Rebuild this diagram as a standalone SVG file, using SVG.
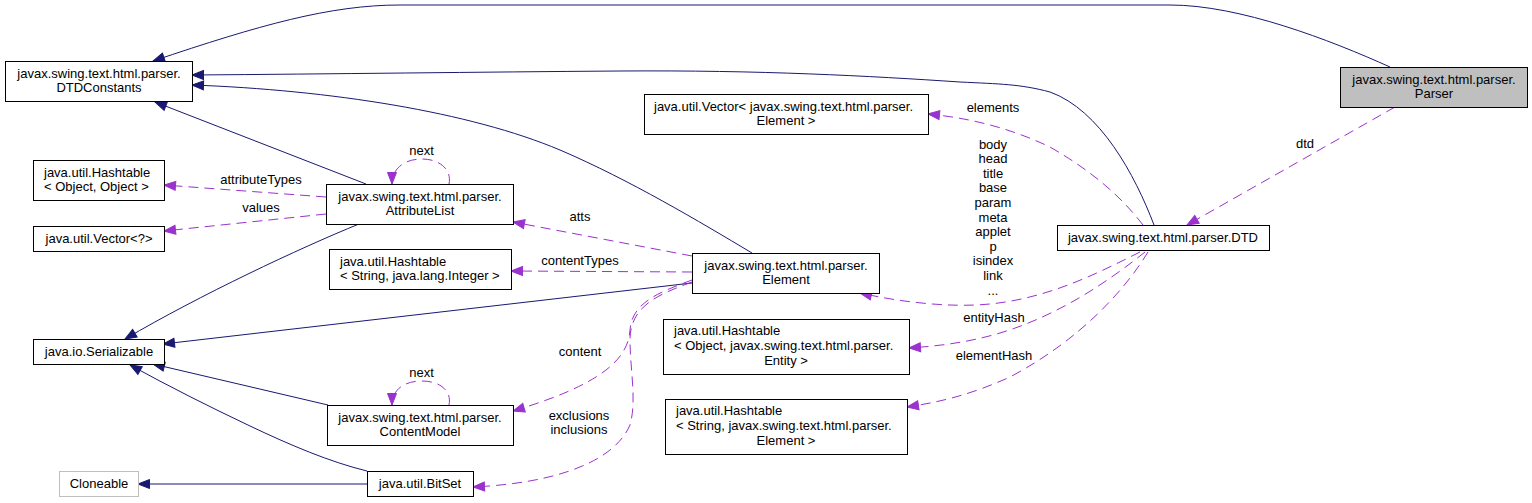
<svg xmlns="http://www.w3.org/2000/svg" width="1532" height="503" viewBox="0 0 1532 503">
<style>
text{font-family:"Liberation Sans",Arial,sans-serif;font-size:13px;fill:#000}
.c{text-anchor:middle}
.n rect{fill:#fff;stroke:#000;stroke-width:1}
.n.p rect{fill:#bfbfbf}
.n.x rect{stroke:#bfbfbf}
.i{fill:none;stroke:#191970;stroke-width:1;marker-end:url(#ai)}
.u{fill:none;stroke:#9a32cd;stroke-width:1;stroke-dasharray:10,6;marker-end:url(#au)}
</style>
<defs>
<marker id="ai" markerUnits="userSpaceOnUse" markerWidth="14" markerHeight="12" refX="12" refY="5" orient="auto" overflow="visible">
<path d="M0.5,0.5 L12,5 L0.5,9.5 z" fill="#191970" stroke="#191970" stroke-width="1"/>
</marker>
<marker id="au" markerUnits="userSpaceOnUse" markerWidth="14" markerHeight="12" refX="12" refY="5" orient="auto" overflow="visible">
<path d="M0.5,0.5 L12,5 L0.5,9.5 z" fill="#9a32cd" stroke="#9a32cd" stroke-width="1"/>
</marker>
</defs>
<rect width="1532" height="503" fill="#fff"/>
<g id="connectors">
<path class="i" d="M1390,67 C1330,40 1240,5 1170,5 L400,5 C330,5 260,25 153,61"/>
<path class="i" d="M1154,225 C1135,175 1100,110 1050,92 C1020,84 1000,84 960,82 C870,76 760,70 620,71 C480,72 330,74 192,75"/>
<path class="i" d="M752,253 C700,222 630,180 560,150 C470,112 330,90 192,85"/>
<path class="i" d="M366,184 L155,102"/>
<path class="i" d="M359,224 C300,248 200,295 125,339"/>
<path class="i" d="M692,283 L163,344"/>
<path class="i" d="M328,405 L153,364"/>
<path class="i" d="M367,471 C330,462 290,445 250,426 C210,407 170,387 130,365"/>
<path class="i" d="M367,484 L138,484"/>
<path class="u" d="M1395,107 L1187,225"/>
<text class="c" x="1305" y="148">dtd</text>
<path class="u" d="M1143,225 C1120,195 1090,170 1050,147 C1010,128 970,118 928,114"/>
<text class="c" x="993" y="112">elements</text>
<path class="u" d="M1140,252 C1100,272 1050,298 990,304 C950,308 900,302 860,293"/>
<text class="c" x="993" y="148.5">body<tspan x="993" dy="14.6">head</tspan><tspan x="993" dy="14.6">title</tspan><tspan x="993" dy="14.6">base</tspan><tspan x="993" dy="14.6">param</tspan><tspan x="993" dy="14.6">meta</tspan><tspan x="993" dy="14.6">applet</tspan><tspan x="993" dy="14.6">p</tspan><tspan x="993" dy="14.6">isindex</tspan><tspan x="993" dy="14.6">link</tspan><tspan x="993" dy="14.6">...</tspan></text>
<path class="u" d="M1145,252 C1110,280 1060,315 1000,333 C970,342 940,346 909,348"/>
<text class="c" x="994" y="322">entityHash</text>
<path class="u" d="M1148,252 C1125,290 1080,340 1010,377 C970,395 940,402 907,407"/>
<text class="c" x="994" y="360">elementHash</text>
<path class="u" d="M326,197 L164,185"/>
<text class="c" x="261" y="184">attributeTypes</text>
<path class="u" d="M326,214 L164,231"/>
<text class="c" x="261" y="212">values</text>
<path class="u" d="M449,184 C452,170 440,159 422,159 C405,159 392,168 392,184"/>
<text class="c" x="421.5" y="155">next</text>
<path class="u" d="M692,256 L513,222"/>
<text class="c" x="580" y="221">atts</text>
<path class="u" d="M692,272 L511,271"/>
<text class="c" x="580" y="265">contentTypes</text>
<path class="u" d="M692,280 C660,292 632,302 630,330 C628,360 600,385 513,411"/>
<text class="c" x="580" y="356">content</text>
<path class="u" d="M692,282 C660,294 630,305 630,340 C630,370 637,400 630,425 C615,460 560,483 473,487"/>
<text class="c" x="579" y="419.5">exclusions</text>
<text class="c" x="579" y="434">inclusions</text>
<path class="u" d="M449,405 C452,391 440,381 422,381 C405,381 392,389 392,405"/>
<text class="c" x="421.5" y="377">next</text>
</g>
<g id="Parser" class="n p"><rect x="1340.5" y="67.5" width="187" height="40"/><text class="c" x="1434" y="84">javax.swing.text.html.parser.</text><text class="c" x="1434" y="98">Parser</text></g>
<g id="DTDConstants" class="n"><rect x="5.5" y="61.5" width="187" height="40"/><text class="c" x="99" y="78">javax.swing.text.html.parser.</text><text class="c" x="99" y="92">DTDConstants</text></g>
<g id="HashtableObjectObject" class="n"><rect x="33.5" y="160.5" width="131" height="40"/><text x="44" y="177">java.util.Hashtable</text><text x="44" y="191">&lt; Object, Object &gt;</text></g>
<g id="VectorWildcard" class="n"><rect x="33.5" y="226.5" width="131" height="25"/><text class="c" x="99" y="243">java.util.Vector&lt;?&gt;</text></g>
<g id="AttributeList" class="n"><rect x="326.5" y="184.5" width="187" height="40"/><text class="c" x="420" y="201">javax.swing.text.html.parser.</text><text class="c" x="420" y="215">AttributeList</text></g>
<g id="HashtableStringInteger" class="n"><rect x="329.5" y="249.5" width="182" height="40"/><text x="340" y="266">java.util.Hashtable</text><text x="340" y="280">&lt; String, java.lang.Integer &gt;</text></g>
<g id="Serializable" class="n"><rect x="33.5" y="339.5" width="131" height="25"/><text class="c" x="99" y="356">java.io.Serializable</text></g>
<g id="ContentModel" class="n"><rect x="327.5" y="405.5" width="186" height="40"/><text class="c" x="420" y="422">javax.swing.text.html.parser.</text><text class="c" x="420" y="436">ContentModel</text></g>
<g id="Cloneable" class="n x"><rect x="59.5" y="471.5" width="79" height="25"/><text class="c" x="99" y="488">Cloneable</text></g>
<g id="BitSet" class="n"><rect x="367.5" y="471.5" width="106" height="25"/><text class="c" x="420" y="488">java.util.BitSet</text></g>
<g id="Element" class="n"><rect x="692.5" y="253.5" width="187" height="40"/><text class="c" x="786" y="270">javax.swing.text.html.parser.</text><text class="c" x="786" y="284">Element</text></g>
<g id="VectorElement" class="n"><rect x="644.5" y="94.5" width="284" height="40"/><text x="654" y="111">java.util.Vector&lt; javax.swing.text.html.parser.</text><text class="c" x="786" y="125">Element &gt;</text></g>
<g id="HashtableObjectEntity" class="n"><rect x="663.5" y="319.5" width="246" height="55"/><text x="674" y="335">java.util.Hashtable</text><text x="674" y="350">&lt; Object, javax.swing.text.html.parser.</text><text class="c" x="786" y="365">Entity &gt;</text></g>
<g id="HashtableStringElement" class="n"><rect x="665.5" y="399.5" width="242" height="55"/><text x="676" y="415">java.util.Hashtable</text><text x="676" y="430">&lt; String, javax.swing.text.html.parser.</text><text class="c" x="786" y="445">Element &gt;</text></g>
<g id="DTD" class="n"><rect x="1057.5" y="225.5" width="212" height="25"/><text class="c" x="1163" y="242">javax.swing.text.html.parser.DTD</text></g>
</svg>
